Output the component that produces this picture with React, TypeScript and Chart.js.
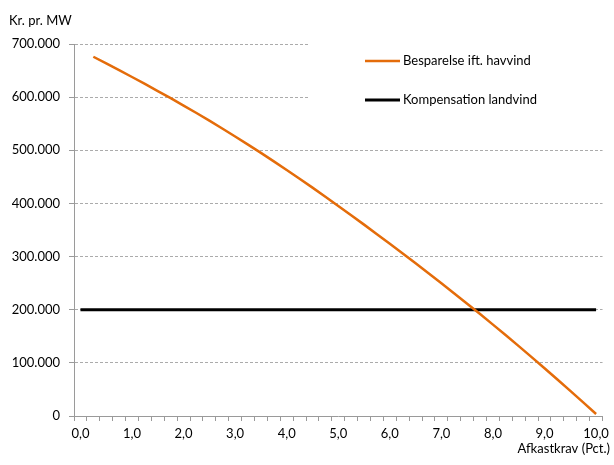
import React, { useEffect, useRef } from 'react';
import { Chart, registerables } from 'chart.js';

Chart.register(...registerables);

const categories: number[] = [
  0, 0.25, 0.5, 0.75, 1, 1.25, 1.5, 1.75, 2, 2.25, 2.5, 2.75, 3, 3.25, 3.5, 3.75,
  4, 4.25, 4.5, 4.75, 5, 5.25, 5.5, 5.75, 6, 6.25, 6.5, 6.75, 7, 7.25, 7.5, 7.75,
  8, 8.25, 8.5, 8.75, 9, 9.25, 9.5, 9.75, 10,
];

const besparelse: (number | null)[] = [
  null, 676000, 663500, 650800, 637900, 624800, 611500, 598000, 584200, 570100,
  555700, 541000, 526000, 510700, 495100, 479200, 463000, 446500, 429700, 412600,
  395300, 377800, 360100, 342200, 324100, 305800, 287300, 268600, 249700, 230600,
  211300, 191800, 172000, 151900, 131500, 110800, 89800, 68600, 47200, 25600, 3800,
];

const kompensation: number[] = [
  200000, 200000, 200000, 200000, 200000, 200000, 200000, 200000, 200000, 200000,
  200000, 200000, 200000, 200000, 200000, 200000, 200000, 200000, 200000, 200000,
  200000, 200000, 200000, 200000, 200000, 200000, 200000, 200000, 200000, 200000,
  200000, 200000, 200000, 200000, 200000, 200000, 200000, 200000, 200000, 200000,
  200000,
];

const yTicks: number[] = [0, 100000, 200000, 300000, 400000, 500000, 600000, 700000];

const seriesNames = ['Besparelse ift. havvind', 'Kompensation landvind'];
const yTitle = 'Kr. pr. MW';
const xTitle = 'Afkastkrav (Pct.)';

const ORANGE = '#E46C0A';
const FONT = 'Lato, "Open Sans", sans-serif';

function fmtThousands(v: number): string {
  const s = Math.round(v).toString();
  return s.replace(/\B(?=(\d{3})+(?!\d))/g, '.');
}

const overlayPlugin = {
  id: 'overlay',
  beforeDatasetsDraw(chart: any) {
    const ctx = chart.ctx;
    ctx.save();
    ctx.fillStyle = '#ffffff';
    ctx.fillRect(310, 36, 296, 76);
    ctx.restore();
  },
  afterDraw(chart: any) {
    const ctx = chart.ctx;
    ctx.save();
    ctx.font = `13px ${FONT}`;
    ctx.fillStyle = '#000';
    ctx.textBaseline = 'middle';
    const ds = chart.data.datasets;
    const rows = [61, 100];
    ds.forEach((d: any, i: number) => {
      const y = rows[i];
      ctx.strokeStyle = d.borderColor;
      ctx.lineWidth = d.borderWidth;
      ctx.beginPath();
      ctx.moveTo(365, y);
      ctx.lineTo(400, y);
      ctx.stroke();
      ctx.textAlign = 'left';
      ctx.fillText(d.label, 403, y);
    });
    ctx.textAlign = 'left';
    ctx.fillText(yTitle, 9, 21);
    ctx.textAlign = 'right';
    ctx.fillText(xTitle, 610, 449);
    ctx.restore();
  },
};

export default function App() {
  const canvasRef = useRef<HTMLCanvasElement | null>(null);

  useEffect(() => {
    document.body.style.margin = '0';
    const canvas = canvasRef.current;
    if (!canvas) return;
    const chart = new Chart(canvas, {
      type: 'line',
      data: {
        labels: categories.map((c) => c.toFixed(2).replace('.', ',')),
        datasets: [
          {
            label: seriesNames[0],
            data: besparelse,
            borderColor: ORANGE,
            backgroundColor: ORANGE,
            borderWidth: 2.5,
            pointRadius: 0,
            tension: 0,
            spanGaps: false,
          },
          {
            label: seriesNames[1],
            data: kompensation,
            borderColor: '#000000',
            backgroundColor: '#000000',
            borderWidth: 3,
            pointRadius: 0,
            tension: 0,
          },
        ],
      },
      options: {
        animation: false,
        responsive: false,
        maintainAspectRatio: false,
        layout: { padding: { left: 0, right: 10, top: 44, bottom: 0 } },
        plugins: {
          legend: { display: false },
          tooltip: { enabled: false },
        },
        scales: {
          x: {
            type: 'category',
            offset: true,
            grid: {
              display: true,
              drawOnChartArea: false,
              drawTicks: true,
              offset: true,
              tickLength: 5,
              tickColor: '#9a9a9a',
              tickWidth: 1,
            },
            border: { display: true, color: '#9a9a9a', width: 1 },
            ticks: {
              autoSkip: false,
              maxRotation: 0,
              minRotation: 0,
              padding: 5,
              color: '#000',
              font: { family: FONT, size: 13 },
              callback: (_v: any, i: number) =>
                i % 4 === 0 ? categories[i].toFixed(1).replace('.', ',') : '',
            },
            afterFit: (s: any) => {
              s.height = 49;
            },
          },
          y: {
            type: 'linear',
            min: 0,
            max: 700000,
            afterBuildTicks: (s: any) => {
              s.ticks = yTicks.map((v) => ({ value: v }));
            },
            grid: {
              display: true,
              drawOnChartArea: true,
              drawTicks: true,
              tickLength: 5,
              tickColor: '#9a9a9a',
              tickBorderDash: [],
              color: (c: any) => (c.tick && c.tick.value === 0 ? 'rgba(0,0,0,0)' : '#ababab'),
              lineWidth: 1,
            },
            border: { display: true, color: '#9a9a9a', width: 1, dash: [3, 2] },
            ticks: {
              padding: 9,
              color: '#000',
              font: { family: FONT, size: 13 },
              callback: (v: any) => fmtThousands(Number(v)),
            },
            afterFit: (s: any) => {
              s.width = 74;
            },
          },
        },
      },
      plugins: [overlayPlugin],
    } as any);
    return () => chart.destroy();
  }, []);

  return (
    <div style={{ width: 614, height: 465 }}>
      <canvas ref={canvasRef} width={614} height={465} style={{ width: 614, height: 465 }} />
    </div>
  );
}
